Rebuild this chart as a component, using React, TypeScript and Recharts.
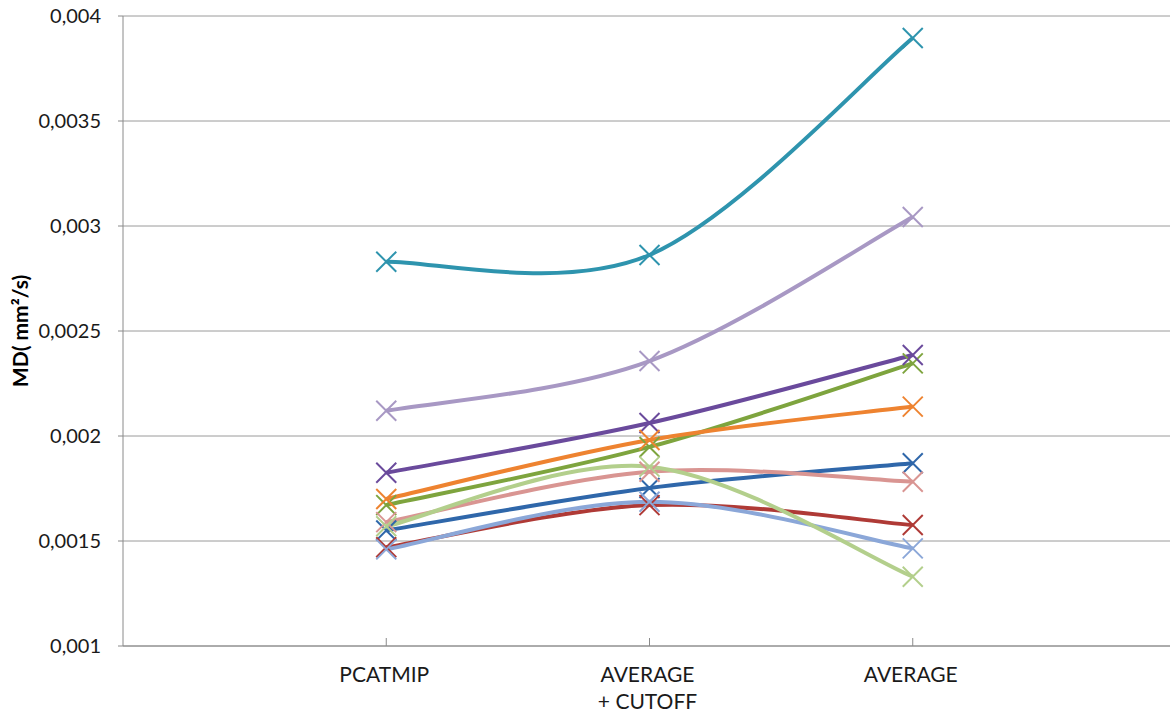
import { CartesianGrid, Line, LineChart, XAxis, YAxis } from "recharts";

// categories (index 1..3 on a numeric x axis with one empty slot each side)
const categories = [["PCATMIP"], ["AVERAGE", "+ CUTOFF"], ["AVERAGE"]];
const yTicks = [0.001, 0.0015, 0.002, 0.0025, 0.003, 0.0035, 0.004];

const blue = [0.00155, 0.001752, 0.00187];
const red = [0.00147, 0.001671, 0.001576];
const green = [0.001671, 0.001948, 0.002346];
const purple = [0.001825, 0.002062, 0.002386];
const teal = [0.00283, 0.002862, 0.003895];
const orange = [0.0017, 0.001981, 0.00214];
const lightBlue = [0.00146, 0.001687, 0.001465];
const pink = [0.00159, 0.00183, 0.001782];
const lightGreen = [0.00157, 0.001854, 0.00133];
const lightPurple = [0.00212, 0.002357, 0.003043];

const series = [
  { key: "blue", values: blue, color: "#2F67AA" },
  { key: "red", values: red, color: "#AF3A36" },
  { key: "green", values: green, color: "#7EA43E" },
  { key: "purple", values: purple, color: "#6A4A9C" },
  { key: "teal", values: teal, color: "#2E94AE" },
  { key: "orange", values: orange, color: "#EE8330" },
  { key: "lightBlue", values: lightBlue, color: "#8BA7D8" },
  { key: "pink", values: pink, color: "#D99592" },
  { key: "lightGreen", values: lightGreen, color: "#B3CF8C" },
  { key: "lightPurple", values: lightPurple, color: "#A898C4" },
];

const data = categories.map((_, i) => {
  const row: Record<string, number> = { x: i + 1 };
  series.forEach((s) => (row[s.key] = s.values[i]));
  return row;
});

// Excel-style smoothing (Catmull-Rom, control points at 1/6)
const excelCurve = (context: any) => {
  let pts: number[][] = [];
  return {
    areaStart() {},
    areaEnd() {},
    lineStart() {
      pts = [];
    },
    point(x: number, y: number) {
      pts.push([+x, +y]);
    },
    lineEnd() {
      const n = pts.length;
      if (!n) return;
      context.moveTo(pts[0][0], pts[0][1]);
      for (let i = 0; i < n - 1; i++) {
        const p0 = pts[i - 1] || pts[i];
        const p1 = pts[i];
        const p2 = pts[i + 1];
        const p3 = pts[i + 2] || pts[i + 1];
        context.bezierCurveTo(
          p1[0] + (p2[0] - p0[0]) / 6,
          p1[1] + (p2[1] - p0[1]) / 6,
          p2[0] - (p3[0] - p1[0]) / 6,
          p2[1] - (p3[1] - p1[1]) / 6,
          p2[0],
          p2[1]
        );
      }
    },
  };
};

const XMark = (props: any) => {
  const { cx, cy, stroke } = props;
  if (cx == null || cy == null) return <g />;
  const r = 10;
  return (
    <g>
      <line x1={cx - r} y1={cy - r} x2={cx + r} y2={cy + r} stroke={stroke} strokeWidth={2} />
      <line x1={cx - r} y1={cy + r} x2={cx + r} y2={cy - r} stroke={stroke} strokeWidth={2} />
    </g>
  );
};

const XTick = (props: any) => {
  const { x, y, payload } = props;
  const lines = categories[payload.value - 1] || [];
  return (
    <g>
      <line x1={x} x2={x} y1={y - 8} y2={y} stroke="#8a8a8a" />
      <text x={x} y={y} textAnchor="middle" fontSize={21} fill="#1a1a1a" fontFamily="Lato">
        {lines.map((l, i) => (
          <tspan key={i} x={x - 2} dy={i === 0 ? 36 : 27}>
            {l}
          </tspan>
        ))}
      </text>
    </g>
  );
};

const YTitle = (props: any) => {
  const vb = props.viewBox;
  const cx = vb.x + 23;
  const cy = vb.y + vb.height / 2;
  return (
    <text
      x={cx}
      y={cy}
      transform={`rotate(-90, ${cx}, ${cy})`}
      textAnchor="middle"
      dominantBaseline="middle"
      fontSize={21}
      fontWeight="bold"
      fill="#000"
      fontFamily="Lato"
    >
      MD( mm²/s)
    </text>
  );
};

export default function App() {
  return (
    <div style={{ position: "absolute", left: 0, top: 0, width: 1170, height: 713, overflow: "hidden", background: "#fff" }}>
      <LineChart
        width={1176}
        height={713}
        data={data}
        margin={{ top: 16, right: 0, bottom: 7, left: 0 }}
        style={{ fontFamily: "Lato" }}
      >
        <CartesianGrid horizontal vertical={false} stroke="#9a9a9a" />
        <XAxis
          type="number"
          dataKey="x"
          domain={[0, 4]}
          ticks={[1, 2, 3]}
          height={60}
          tickLine={false}
          tickSize={0}
          tickMargin={0}
          stroke="#8a8a8a"
          tick={<XTick />}
          interval={0}
        />
        <YAxis
          type="number"
          domain={[0.001, 0.004]}
          ticks={yTicks}
          width={123}
          tickSize={5}
          tickMargin={17}
          stroke="#8a8a8a"
          tick={{ fill: "#1a1a1a", fontSize: 20, fontFamily: "Lato" }}
          tickFormatter={(v: number) => String(v).replace(".", ",")}
          label={{ content: <YTitle /> }}
          interval={0}
        />
        {series.map((s) => (
          <Line
            key={s.key}
            dataKey={s.key}
            type={excelCurve as any}
            stroke={s.color}
            strokeWidth={4}
            dot={<XMark />}
            activeDot={false}
            isAnimationActive={false}
          />
        ))}
      </LineChart>
    </div>
  );
}
